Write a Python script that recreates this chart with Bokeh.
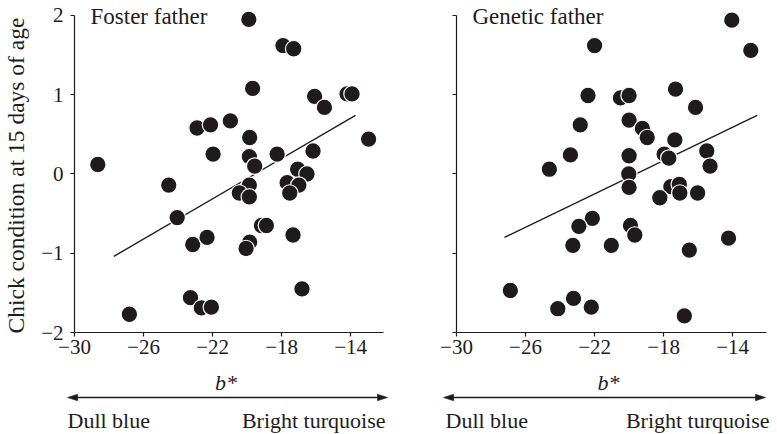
import math
from bokeh.plotting import figure
from bokeh.layouts import row
from bokeh.models import Range1d, FixedTicker, Label
from bokeh.embed import file_html
from bokeh.resources import INLINE

# ---------------- data ----------------
x_ticks = [-30, -26, -22, -18, -14]
x_tick_labels = ["\u221230", "\u221226", "\u221222", "\u221218", "\u221214"]
y_ticks = [-2, -1, 0, 1, 2]
y_tick_labels = ["\u22122", "\u22121", "0", "1", "2"]

foster_b = [-19.90, -17.92, -17.30, -19.68, -16.09, -14.21, -13.92, -15.52, -22.90, -22.12,
            -20.97, -19.85, -12.96, -21.97, -19.87, -19.56, -18.26, -16.18, -28.65, -17.07,
            -16.53, -24.54, -19.87, -17.68, -17.00, -20.45, -19.87, -17.53, -24.05, -23.15,
            -22.32, -19.17, -18.88, -19.85, -20.06, -17.34, -16.82, -23.28, -22.65, -22.07,
            -26.82]
foster_cond = [1.95, 1.62, 1.58, 1.08, 0.98, 1.01, 1.01, 0.84, 0.58, 0.62,
               0.67, 0.46, 0.44, 0.25, 0.22, 0.10, 0.25, 0.29, 0.12, 0.06,
               0.00, -0.14, -0.14, -0.11, -0.14, -0.24, -0.29, -0.24, -0.55, -0.89,
               -0.80, -0.65, -0.65, -0.86, -0.94, -0.77, -1.45, -1.56, -1.69, -1.68,
               -1.77]

genetic_b = [-14.05, -12.95, -22.00, -22.38, -20.50, -20.00, -17.31, -16.15, -22.83, -20.00,
             -19.23, -18.95, -17.35, -23.40, -20.00, -17.97, -17.70, -15.50, -15.31, -24.62,
             -20.02, -20.00, -17.58, -17.09, -17.06, -18.22, -16.03, -22.13, -22.91, -19.92,
             -19.67, -23.26, -21.03, -14.24, -16.51, -26.88, -23.22, -24.13, -22.19, -16.80]
genetic_cond = [1.94, 1.56, 1.62, 0.99, 0.96, 0.99, 1.07, 0.84, 0.62, 0.68,
                0.575, 0.46, 0.43, 0.24, 0.23, 0.25, 0.20, 0.29, 0.10, 0.06,
                0.00, -0.17, -0.16, -0.13, -0.24, -0.30, -0.24, -0.56, -0.66, -0.65,
                -0.77, -0.90, -0.90, -0.81, -0.96, -1.47, -1.57, -1.70, -1.68, -1.79]

foster_fit_b = [-27.72, -13.72]
foster_fit_cond = [-1.04, 0.74]
genetic_fit_b = [-27.22, -12.58]
genetic_fit_cond = [-0.80, 0.74]

panel_titles = ["Foster father", "Genetic father"]
x_label = "b*"
y_label = "Chick condition at 15 days of age"
scale_low = "Dull blue"
scale_high = "Bright turquoise"

# ---------------- style / layout ----------------
FONT = "Liberation Serif"
INK = "#1f1b1c"
PX_X = 17.26          # pixels per b* unit
PX_Y = 79.26          # pixels per condition unit
AXIS_Y_PAGE = 332     # page y of the x axis line (condition = -2)
PAGE_H = 434
BASE_FIX = 0.36       # Label 'alphabetic' baseline renders this many em lower


def make_panel(bx, cy, fx, fy, title, fig_left, fig_w, axis_x_page, axis_end_page,
               show_y_labels, arrow_l, arrow_r, low_x, high_x):
    # helpers converting page pixel positions (layout only) into this panel's data space
    def dx(page_x):
        return -30 + (page_x - axis_x_page) / PX_X

    def dy(page_y):
        return -2 - (page_y - AXIS_Y_PAGE) / PX_Y

    p = figure(width=fig_w, height=PAGE_H,
               x_range=Range1d(dx(fig_left), dx(fig_left + fig_w)),
               y_range=Range1d(dy(PAGE_H), dy(0)),
               output_backend="svg", toolbar_location=None,
               min_border_left=0, min_border_right=0, min_border_top=0, min_border_bottom=0)
    p.title.text = ""
    p.outline_line_color = None
    p.grid.visible = False
    p.background_fill_color = "white"
    p.border_fill_color = "white"

    for ax in (p.xaxis[0], p.yaxis[0]):
        ax.major_tick_out = 4
        ax.major_tick_in = 0
        ax.minor_tick_out = 0
        ax.minor_tick_in = 0
        ax.axis_line_width = 1.2
        ax.axis_line_color = INK
        ax.major_tick_line_color = INK
        ax.major_tick_line_width = 1.2
        ax.major_label_text_font = FONT
        ax.major_label_text_font_size = "21px"
        ax.major_label_text_color = INK

    xa = p.xaxis[0]
    xa.fixed_location = -2
    xa.bounds = (-30, dx(axis_end_page))
    xa.ticker = FixedTicker(ticks=x_ticks)
    xa.major_label_overrides = dict(zip(x_ticks, x_tick_labels))
    xa.major_label_standoff = 3

    ya = p.yaxis[0]
    ya.fixed_location = -30
    ya.bounds = (-2, 2)
    ya.ticker = FixedTicker(ticks=y_ticks)
    ya.major_label_standoff = 7
    if show_y_labels:
        ya.major_label_overrides = dict(zip(y_ticks, y_tick_labels))
    else:
        ya.major_label_overrides = {t: "" for t in y_ticks}

    # data marks
    p.line(fx, fy, line_color=INK, line_width=1.3)
    p.scatter(bx, cy, size=16.5, fill_color=INK, line_color="white", line_width=1.2)

    def text(page_x, page_y, s, align, size, style="normal", angle=0.0):
        fix = BASE_FIX * size
        if angle:
            x, y = dx(page_x - fix), dy(page_y)
        else:
            x, y = dx(page_x), dy(page_y - fix)
        p.add_layout(Label(x=x, y=y, text=s, angle=angle,
                           text_font=FONT, text_font_style=style, text_font_size=f"{size}px",
                           text_color=INK, text_align=align, text_baseline="alphabetic"))

    # panel title
    text(axis_x_page + 16, 24, title, "left", 23)
    # y axis title
    if show_y_labels:
        text(23.5, 175, y_label, "center", 23.5, angle=math.pi / 2)
    # x axis title b*
    text((axis_x_page + axis_end_page) / 2 - 3, 390, x_label, "center", 22, style="italic")

    # double-headed arrow
    ay = dy(397)
    hl, hw = 10 / PX_X, 3.2 / PX_Y
    xl, xr = dx(arrow_l), dx(arrow_r)
    p.segment(x0=[xl + 0.6 * hl], y0=[ay], x1=[xr - 0.6 * hl], y1=[ay],
              line_color=INK, line_width=1.3)
    p.patches(xs=[[xl, xl + hl, xl + hl], [xr, xr - hl, xr - hl]],
              ys=[[ay, ay + hw, ay - hw], [ay, ay + hw, ay - hw]],
              fill_color=INK, line_color=INK, line_width=0.6)

    # scale words
    text(low_x, 428, scale_low, "left", 22)
    text(high_x, 428, scale_high, "right", 22)
    return p


W1 = 393
W2 = 777 - W1
p1 = make_panel(foster_b, foster_cond, foster_fit_b, foster_fit_cond, panel_titles[0],
                fig_left=0, fig_w=W1, axis_x_page=74, axis_end_page=383, show_y_labels=True,
                arrow_l=67, arrow_r=387, low_x=67, high_x=385)
p2 = make_panel(genetic_b, genetic_cond, genetic_fit_b, genetic_fit_cond, panel_titles[1],
                fig_left=W1, fig_w=W2, axis_x_page=456, axis_end_page=766, show_y_labels=False,
                arrow_l=443, arrow_r=765, low_x=445, high_x=769)

layout = row(p1, p2)
open("out.html", "w").write(file_html(layout, INLINE))
